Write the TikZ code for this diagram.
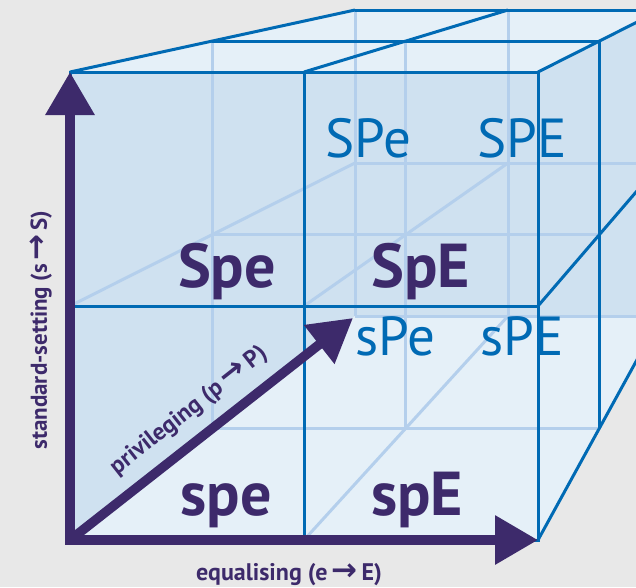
\documentclass[tikz,border=0pt]{standalone}
\usepackage{fontspec}
\setmainfont{PT Sans}
\newfontfamily\arrowfont{DejaVu Sans}
\usetikzlibrary{arrows.meta}
\definecolor{bg}{RGB}{232,232,232}
\definecolor{fillmid}{RGB}{207,225,240}
\definecolor{filllight}{RGB}{229,240,248}
\definecolor{darkline}{RGB}{0,106,180}
\definecolor{lightline}{RGB}{180,207,236}
\definecolor{axispurple}{RGB}{61,42,107}
\newcommand{\arr}{{\arrowfont\bfseries\fontsize{31}{31}\selectfont →}}
\tikzset{
  darkedge/.style={draw=darkline, line width=3pt},
  lightedge/.style={draw=lightline, line width=3pt},
  axisline/.style={draw=axispurple, line width=9.5pt, line join=miter},
  bigtip/.tip={Triangle[length=43pt,width=47pt]},
  cellbold/.style={text=axispurple, font=\fontsize{62}{62}\selectfont\bfseries, inner sep=0pt, anchor=base},
  cellreg/.style={text=darkline, font=\fontsize{55}{55}\selectfont, inner sep=0pt, anchor=base},
  axislabel/.style={text=axispurple, font=\fontsize{24}{24}\selectfont\bfseries, inner sep=0pt}
}
\begin{document}
\begin{tikzpicture}[x=1pt,y=-1pt]
\useasboundingbox (0,0) rectangle (636,587);
\fill[bg] (0,0) rectangle (636,587);
\clip (0,0) rectangle (636,587);
% grid points: depth d (0 front .. 2 back), column i, row j
\foreach \d/\x/\y/\s in {0/70/72/468, 1/212/41/387, 2/355/10/306}{
  \foreach \i in {0,1,2}{
    \foreach \j in {0,1,2}{
      \coordinate (p\d\i\j) at ({\x+\i*\s/2},{\y+\j*\s/2});
    }
  }
}
% fills
\fill[fillmid] (p000) -- (p200) -- (p220) -- (p222) -- (p022) -- (p002) -- cycle;
\fill[filllight] (p000) -- (p200) -- (p220) -- (p020) -- cycle;
\fill[filllight] (p002) -- (p202) -- (p222) -- (p022) -- cycle;
% hidden (light) edges
\draw[lightedge] (p200) -- (p202);
\draw[lightedge] (p210) -- (p212);
\draw[lightedge] (p201) -- (p221);
\draw[lightedge] (p202) -- (p222);
\draw[lightedge] (p100) -- (p102);
\draw[lightedge] (p110) -- (p112);
\draw[lightedge] (p101) -- (p121);
\draw[lightedge] (p102) -- (p122);
\draw[lightedge] (p001) -- (p201);
\draw[lightedge] (p011) -- (p211);
\draw[lightedge] (p012) -- (p212);
% visible (dark) edges
\draw[darkedge] (p000) -- (p020) -- (p022) -- (p002) -- cycle;
\draw[darkedge] (p010) -- (p012);
\draw[darkedge] (p001) -- (p021);
\draw[darkedge] (p000) -- (p200);
\draw[darkedge] (p010) -- (p210);
\draw[darkedge] (p020) -- (p220);
\draw[darkedge] (p100) -- (p120);
\draw[darkedge] (p200) -- (p220);
\draw[darkedge] (p120) -- (p122);
\draw[darkedge] (p220) -- (p222);
\draw[darkedge] (p021) -- (p221);
\draw[darkedge] (p022) -- (p222);
% axes
\coordinate (o) at (p002);
\coordinate (ytip) at (p000);
\coordinate (xtip) at (p022);
\coordinate (ptip) at (353,318);
\draw[axisline, {bigtip}-{bigtip}] (ytip) -- (o) -- (xtip);
\draw[axisline, -{bigtip}] (o) -- (ptip);
% cell labels
\node[cellreg] (SPe) at (368,157) {SPe};
\node[cellreg] (SPE) at (522,157) {SPE};
\node[cellreg] (sPe) at (395,355) {sPe};
\node[cellreg] (sPE) at (522,355) {sPE};
\node[cellbold] (Spe) at (227,287) {Spe};
\node[cellbold] (SpE) at (421,287) {SpE};
\node[cellbold] (spe) at (226,515) {spe};
\node[cellbold] (spE) at (417,515) {spE};
% axis labels
\node[axislabel, anchor=base] (elab) at (289,580) {equalising (e\,\arr\,E)};
\node[axislabel, rotate=90, font=\fontsize{23}{23}\selectfont\bfseries] (slab) at (41,330) {standard-setting (s\,\arr\,S)};
\node[axislabel, rotate=38.2] (plab) at (189,411) {privileging (p\,\arr\,P)};
\end{tikzpicture}
\end{document}
